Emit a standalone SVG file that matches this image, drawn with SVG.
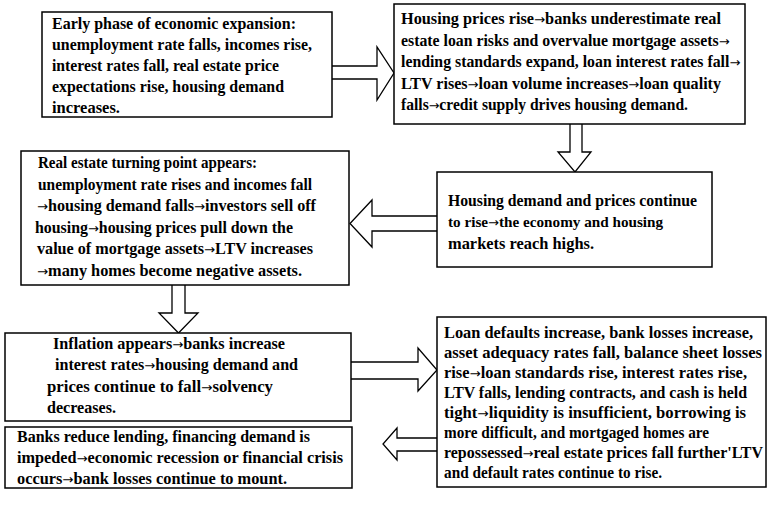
<svg xmlns="http://www.w3.org/2000/svg" width="768" height="507" viewBox="0 0 768 507">
<style>
.box{fill:#fff;stroke:#000;stroke-width:1.5}
.arr{fill:#fff;stroke:#000;stroke-width:1.3;stroke-linejoin:miter}
text{font-family:"Liberation Serif","Times New Roman",serif;font-weight:bold;font-size:16px;fill:#000}
.a{font-family:"DejaVu Sans",sans-serif;font-weight:normal;font-size:13px}
</style>
<rect width="768" height="507" fill="#fff"/>
<g id="connectors">
<path class="arr" d="M332,66 H377 V47 L394,73 L377,100 V79 H332"/>
<path class="arr" d="M570,124 V152 H558 L575,172 L591,152 H582 V124"/>
<path class="arr" d="M437,216 H372 V200 L350,223.5 L372,247 V231 H437"/>
<path class="arr" d="M172,285 V313 H159 L178.5,333 L198,313 H185 V285"/>
<path class="arr" d="M351,362 H418 V348 L437,370 L418,391 V379 H351"/>
<path class="arr" d="M437,438 H397 V428 L383,444 L397,460 V451 H437"/>
</g>
<g id="n1">
<rect class="box" x="42" y="12" width="290" height="105"/>
<text x="52" y="29" textLength="244" lengthAdjust="spacingAndGlyphs">Early phase of economic expansion:</text>
<text x="52" y="50" textLength="260" lengthAdjust="spacingAndGlyphs">unemployment rate falls, incomes rise,</text>
<text x="52" y="71" textLength="227" lengthAdjust="spacingAndGlyphs">interest rates fall, real estate price</text>
<text x="52" y="92" textLength="232" lengthAdjust="spacingAndGlyphs">expectations rise, housing demand</text>
<text x="52" y="113" textLength="68" lengthAdjust="spacingAndGlyphs">increases.</text>
</g>
<g id="n2">
<rect class="box" x="394" y="4" width="351" height="120"/>
<text x="401" y="24" textLength="320" lengthAdjust="spacingAndGlyphs">Housing prices rise<tspan class="a">→</tspan>banks underestimate real</text>
<text x="401" y="46" style="font-size:15.8px">estate loan risks and overvalue mortgage assets<tspan class="a">→</tspan></text>
<text x="401" y="67" style="font-size:15.8px">lending standards expand, loan interest rates fall<tspan class="a">→</tspan></text>
<text x="401" y="89" textLength="320" lengthAdjust="spacingAndGlyphs">LTV rises<tspan class="a">→</tspan>loan volume increases<tspan class="a">→</tspan>loan quality</text>
<text x="401" y="110" textLength="287" lengthAdjust="spacingAndGlyphs">falls<tspan class="a">→</tspan>credit supply drives housing demand.</text>
</g>
<g id="n3">
<rect class="box" x="437" y="172" width="275" height="95"/>
<text x="448" y="206" textLength="249" lengthAdjust="spacingAndGlyphs">Housing demand and prices continue</text>
<text x="448" y="227" style="font-size:15.2px">to rise<tspan class="a">→</tspan>the economy and housing</text>
<text x="448" y="249" textLength="146" lengthAdjust="spacingAndGlyphs">markets reach highs.</text>
</g>
<g id="n4">
<rect class="box" x="21" y="151" width="328" height="134"/>
<text x="38" y="168" textLength="219" lengthAdjust="spacingAndGlyphs">Real estate turning point appears:</text>
<text x="38" y="190" textLength="274" lengthAdjust="spacingAndGlyphs">unemployment rate rises and incomes fall</text>
<text x="37" y="211" textLength="279" lengthAdjust="spacingAndGlyphs"><tspan class="a">→</tspan>housing demand falls<tspan class="a">→</tspan>investors sell off</text>
<text x="35" y="233" textLength="258" lengthAdjust="spacingAndGlyphs">housing<tspan class="a">→</tspan>housing prices pull down the</text>
<text x="37" y="254" textLength="276" lengthAdjust="spacingAndGlyphs">value of mortgage assets<tspan class="a">→</tspan>LTV increases</text>
<text x="37" y="276" textLength="265" lengthAdjust="spacingAndGlyphs"><tspan class="a">→</tspan>many homes become negative assets.</text>
</g>
<g id="n5">
<rect class="box" x="5" y="333" width="346" height="88"/>
<text x="53" y="349" textLength="232" lengthAdjust="spacingAndGlyphs">Inflation appears<tspan class="a">→</tspan>banks increase</text>
<text x="55" y="370" textLength="243" lengthAdjust="spacingAndGlyphs">interest rates<tspan class="a">→</tspan>housing demand and</text>
<text x="47" y="392" textLength="226" lengthAdjust="spacingAndGlyphs">prices continue to fall<tspan class="a">→</tspan>solvency</text>
<text x="47" y="413" textLength="69" lengthAdjust="spacingAndGlyphs">decreases.</text>
</g>
<g id="n6">
<rect class="box" x="437" y="317" width="329" height="170"/>
<text x="444" y="338" textLength="309" lengthAdjust="spacingAndGlyphs">Loan defaults increase, bank losses increase,</text>
<text x="444" y="358" textLength="318" lengthAdjust="spacingAndGlyphs">asset adequacy rates fall, balance sheet losses</text>
<text x="444" y="378" textLength="303" lengthAdjust="spacingAndGlyphs">rise<tspan class="a">→</tspan>loan standards rise, interest rates rise,</text>
<text x="444" y="398" textLength="303" lengthAdjust="spacingAndGlyphs">LTV falls, lending contracts, and cash is held</text>
<text x="444" y="418" textLength="302" lengthAdjust="spacingAndGlyphs">tight<tspan class="a">→</tspan>liquidity is insufficient, borrowing is</text>
<text x="444" y="438" textLength="265" lengthAdjust="spacingAndGlyphs">more difficult, and mortgaged homes are</text>
<text x="444" y="458" textLength="319" lengthAdjust="spacingAndGlyphs">repossessed<tspan class="a">→</tspan>real estate prices fall further'LTV</text>
<text x="444" y="478" textLength="218" lengthAdjust="spacingAndGlyphs">and default rates continue to rise.</text>
</g>
<g id="n7">
<rect class="box" x="5" y="427" width="347" height="61"/>
<text x="17" y="442" textLength="293" lengthAdjust="spacingAndGlyphs">Banks reduce lending, financing demand is</text>
<text x="17" y="463" textLength="326" lengthAdjust="spacingAndGlyphs">impeded<tspan class="a">→</tspan>economic recession or financial crisis</text>
<text x="17" y="484" textLength="270" lengthAdjust="spacingAndGlyphs">occurs<tspan class="a">→</tspan>bank losses continue to mount.</text>
</g>
</svg>
